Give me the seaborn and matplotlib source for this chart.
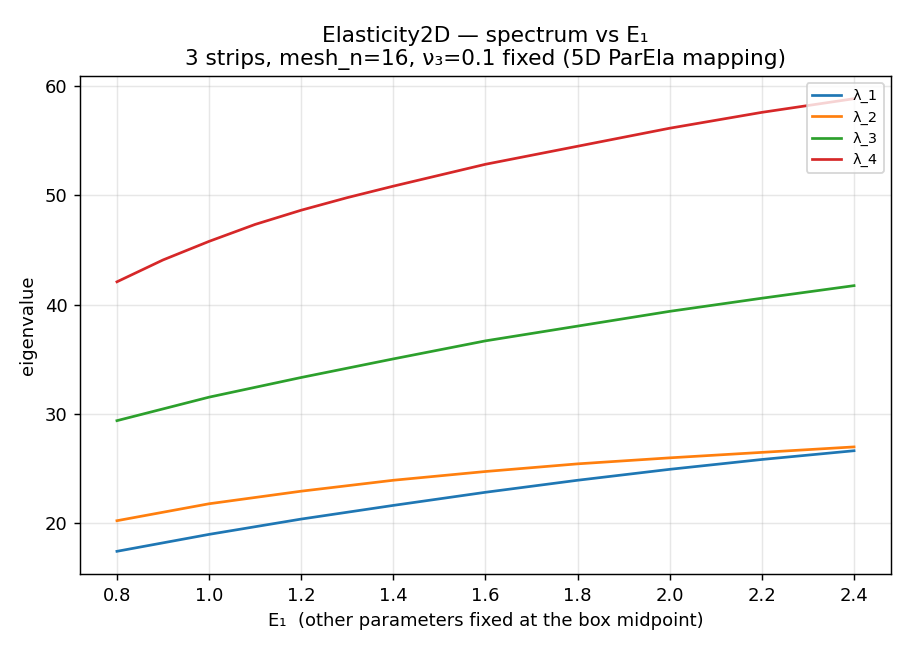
import matplotlib
matplotlib.use("Agg")
import matplotlib.pyplot as plt
import seaborn as sns
import pandas as pd

# E1 sweep values
e1 = [0.8, 1.0, 1.2, 1.4, 1.6, 1.8, 2.0, 2.2, 2.4]
lam_1 = [17.45, 19.0, 20.4, 21.65, 22.85, 23.95, 24.95, 25.85, 26.65]
lam_2 = [20.25, 21.8, 22.95, 23.95, 24.75, 25.45, 26.0, 26.5, 27.0]
lam_3 = [29.4, 31.55, 33.35, 35.05, 36.7, 38.05, 39.4, 40.6, 41.75]
# lambda_4 bends more at low E1, so it was read at finer spacing there
e1_fine = [0.8, 0.9, 1.0, 1.1, 1.2, 1.3, 1.4, 1.6, 1.8, 2.0, 2.2, 2.4]
lam_4 = [42.1, 44.1, 45.8, 47.35, 48.65, 49.8, 50.85, 52.85, 54.5, 56.15, 57.6, 58.85]
names = ["λ_1", "λ_2", "λ_3", "λ_4"]

colors = sns.color_palette("tab10", 4)
series = [(e1, lam_1), (e1, lam_2), (e1, lam_3), (e1_fine, lam_4)]

fig, ax = plt.subplots(figsize=(7, 5), dpi=130)
for name, (xs, vals), col in zip(names, series, colors):
    df = pd.DataFrame({"E1": xs, "val": vals})
    sns.lineplot(data=df, x="E1", y="val", ax=ax, color=col, label=name, linewidth=1.5)

ax.set_xlabel("E₁  (other parameters fixed at the box midpoint)")
ax.set_ylabel("eigenvalue")
ax.set_title("Elasticity2D — spectrum vs E₁\n3 strips, mesh_n=16, ν₃=0.1 fixed (5D ParEla mapping)")
ax.set_xticks([0.8, 1.0, 1.2, 1.4, 1.6, 1.8, 2.0, 2.2, 2.4])
ax.grid(True, alpha=0.3)
ax.legend(loc="upper right", fontsize=8)

plt.subplots_adjust(left=0.088, right=0.979, top=0.883, bottom=0.117)
plt.savefig("out.png")
